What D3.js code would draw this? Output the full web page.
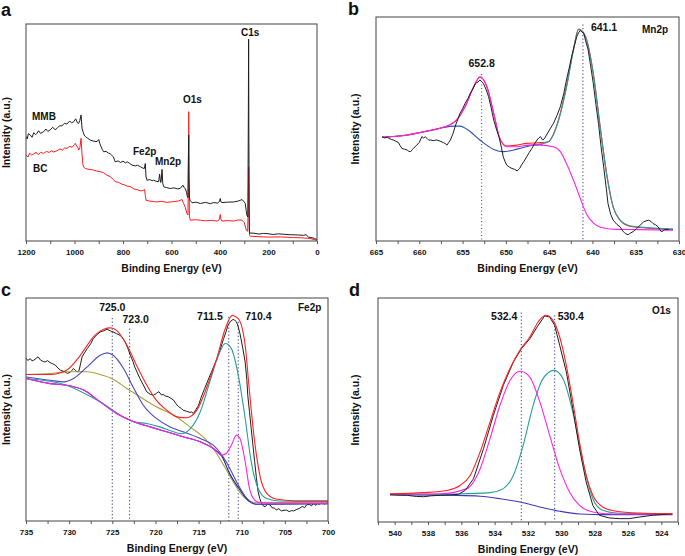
<!DOCTYPE html>
<html><head><meta charset="utf-8">
<script src="https://cdn.jsdelivr.net/npm/d3@7"></script>
<style>
body{margin:0;background:#fff}
text{font-family:"Liberation Sans",Arial,sans-serif;font-weight:bold;fill:#111}
</style>
</head><body>
<svg id="chart" width="685" height="556"></svg>
<script>
// ---------------- DATA (binding energy eV, intensity a.u.) ----------------
// Panel a: survey spectra
const surveyMMB = [[1200,48.1],[1195,47.0],[1190,49.5],[1182,48.8],[1175,47.8],[1168,49.9],[1160,49.0],[1155,49.6],[1148,50.8],[1140,49.6],[1127,50.4],[1118,51.6],[1110,50.5],[1100,51.2],[1090,52.4],[1080,51.3],[1072,51.9],[1062,53.1],[1052,53.0],[1042,54.2],[1031,53.9],[1020,55.3],[1012,54.4],[1003,55.0],[995,56.3],[988,54.5],[983,54.2],[978,55.5],[973,58.1],[969,52.0],[965,50.4],[960,48.8],[955,48.1],[945,47.3],[935,46.5],[920,46.0],[907,45.8],[900,46.8],[896,45.0],[893,44.2],[886,42.3],[880,41.1],[870,41.3],[860,40.5],[852,40.1],[840,38.8],[832,36.5],[820,36.9],[810,36.2],[800,36.8],[790,36.0],[783,36.5],[773,35.8],[763,35.0],[750,34.6],[740,34.9],[728,34.2],[718,33.6],[712,33.4],[708,35.7],[705,29.5],[701,28.0],[690,28.3],[680,27.8],[674,28.0],[665,27.6],[653,27.3],[649,30.8],[645,27.0],[643,27.3],[639,33.0],[636,26.5],[632,25.0],[620,24.6],[605,24.2],[590,24.5],[575,24.0],[564,24.2],[553,25.7],[548,24.6],[543,24.2],[538,22.5],[536,21.1],[532,20.0],[530,40.0],[529,48.8],[528,30.0],[526,20.0],[524,18.8],[515,17.6],[500,17.9],[481,17.3],[460,17.8],[440,17.2],[426,17.7],[410,17.5],[402,18.2],[399,19.6],[396,18.0],[392,17.7],[370,17.9],[344,18.0],[325,18.4],[315,18.8],[309,19.1],[300,18.0],[296,17.3],[292,14.0],[289,11.9],[285,11.1],[283,60.0],[282,93.0],[281,50.0],[279,5.0],[278,3.7],[260,3.6],[240,3.2],[220,3.5],[206,3.4],[180,3.0],[160,3.3],[137,3.1],[110,2.9],[80,2.8],[55,2.6],[45,2.9],[35,1.8],[21,1.5],[10,1.2],[0,0.6]];
const surveyBC = [[1200,39.6],[1192,38.7],[1185,40.5],[1176,39.6],[1168,40.1],[1158,40.9],[1150,39.8],[1140,40.8],[1127,40.4],[1115,41.3],[1105,40.8],[1095,41.6],[1085,41.0],[1072,41.6],[1060,42.4],[1050,41.9],[1040,42.9],[1031,42.7],[1020,43.6],[1010,43.2],[1000,44.5],[997,45.0],[990,43.5],[985,43.0],[983,41.9],[978,43.0],[973,47.3],[969,40.0],[965,35.0],[960,33.8],[955,33.4],[940,33.0],[925,32.8],[910,32.3],[893,31.9],[880,31.5],[870,30.6],[852,29.6],[840,28.4],[832,27.3],[820,27.1],[805,26.2],[795,25.9],[783,25.3],[770,25.1],[755,24.0],[740,23.6],[728,23.1],[718,23.3],[711,23.7],[708,21.0],[705,18.8],[690,18.4],[675,18.2],[660,18.0],[640,18.3],[620,17.8],[605,18.0],[585,18.2],[570,18.5],[557,19.1],[550,17.3],[543,15.5],[536,12.6],[532,12.0],[530,40.0],[529,59.6],[528,30.0],[526,11.0],[522,9.6],[500,9.8],[481,9.6],[460,9.3],[440,9.5],[412,9.2],[403,9.8],[399,12.2],[396,10.0],[392,9.2],[370,9.4],[344,9.2],[325,9.7],[309,9.6],[300,8.5],[294,6.0],[291,4.9],[286,4.5],[283,20.0],[282,34.2],[281,15.0],[278,2.6],[275,2.2],[240,2.0],[206,1.8],[150,1.9],[100,1.6],[69,1.5],[30,1.2],[0,0.3]];

// Panel b: Mn2p
const mnRaw = [[664.3,46.6],[664.0,46.0],[663.7,46.4],[663.5,45.8],[663.2,45.3],[663.0,45.1],[662.7,44.5],[662.4,43.9],[662.2,42.5],[662.0,41.3],[661.7,41.0],[661.4,40.6],[661.2,40.0],[661.0,39.9],[660.8,40.8],[660.7,41.3],[660.5,42.0],[660.3,42.8],[660.0,44.0],[659.7,46.6],[659.5,46.0],[659.3,46.5],[659.1,45.8],[658.9,45.0],[658.7,45.1],[658.4,44.8],[658.0,45.1],[657.6,44.6],[657.2,43.9],[657.0,43.5],[656.8,42.8],[656.6,44.0],[656.4,45.1],[656.1,48.0],[655.8,51.8],[655.5,54.8],[655.3,57.0],[655.0,59.0],[654.7,61.5],[654.4,63.5],[654.1,66.0],[653.8,68.0],[653.5,70.4],[653.2,71.0],[653.0,71.9],[652.8,71.2],[652.6,70.4],[652.3,67.8],[652.0,64.5],[651.7,59.5],[651.4,54.0],[651.1,50.0],[650.8,46.6],[650.5,41.5],[650.3,37.6],[650.1,35.5],[649.9,33.9],[649.6,33.0],[649.3,32.4],[649.0,32.0],[648.7,31.3],[648.4,32.4],[648.2,33.9],[647.9,35.6],[647.6,37.6],[647.3,39.5],[647.0,41.3],[646.7,43.3],[646.4,45.1],[646.2,46.0],[646.0,46.6],[645.8,45.3],[645.7,45.1],[645.5,46.0],[645.3,47.3],[644.9,50.0],[644.5,52.5],[644.1,56.0],[643.7,60.0],[643.3,66.0],[643.0,71.9],[642.7,77.0],[642.4,82.4],[642.1,87.0],[641.8,91.3],[641.6,93.0],[641.4,94.0],[641.2,93.2],[641.0,92.8],[640.8,89.5],[640.5,85.4],[640.2,78.0],[639.9,70.4],[639.6,61.0],[639.3,52.5],[639.0,42.0],[638.7,33.1],[638.4,23.5],[638.2,16.7],[637.9,12.0],[637.6,9.3],[637.2,7.5],[636.8,6.3],[636.5,4.5],[636.2,3.3],[635.9,2.8],[635.7,3.3],[635.3,4.2],[634.9,5.5],[634.5,7.0],[634.1,8.5],[633.8,9.0],[633.5,9.3],[633.2,8.6],[633.0,7.8],[632.7,7.2],[632.4,6.3],[632.2,5.0],[632.0,4.0],[631.8,4.8],[631.6,5.1],[631.2,5.1]];
const mnEnvelope = [[664.3,46.3],[661.4,47.3],[659.5,48.8],[657.6,50.3],[655.7,54.0],[654.7,60.0],[653.7,69.0],[653.0,73.3],[652.2,69.0],[651.4,57.0],[650.7,45.8],[649.9,42.4],[648.7,42.8],[647.6,43.6],[646.0,43.9],[645.1,44.3],[644.1,51.8],[643.0,69.0],[642.2,85.4],[641.6,94.6],[640.8,91.3],[639.9,74.9],[639.1,51.0],[638.3,28.7],[637.6,15.2],[636.8,9.3],[635.7,6.6],[634.5,6.0],[630.7,5.1]];
const mn652 = [[664.3,46.3],[661.4,47.3],[659.5,48.8],[657.6,50.3],[655.7,54.0],[654.7,60.0],[653.7,69.0],[653.0,73.1],[652.2,69.0],[651.4,57.0],[650.7,45.8],[649.9,42.1],[648.7,42.1],[647.6,42.7],[646.0,42.8],[644.5,42.1],[643.7,39.9],[643.0,34.6],[642.2,27.2],[641.4,19.0],[640.7,12.2],[639.9,8.1],[638.7,5.8],[637.2,5.2],[634.5,5.1],[630.7,4.8]];
const mn641 = [[647.6,42.7],[646.0,43.3],[645.1,44.3],[644.1,51.5],[643.0,68.5],[642.2,85.0],[641.6,94.4],[640.8,91.0],[639.9,74.5],[639.1,50.5],[638.3,28.3],[637.6,15.0],[636.8,9.3],[635.7,6.8],[634.5,6.2],[630.7,5.4]];
const mnSatellite = [[664.3,46.3],[661.4,47.3],[659.5,48.7],[657.6,50.3],[656.0,51.3],[655.3,51.3],[654.5,49.9],[653.0,45.1],[651.4,40.9],[650.3,39.9],[648.7,41.0],[647.2,42.5],[645.7,43.3]];
const mnPeaks = [652.8, 641.1];
const mnPeakTops = [74.6, 96.6];

// Panel c: Fe2p
const feRaw = [[735.0,73.1],[734.8,72.0],[734.5,72.8],[734.3,71.8],[734.1,72.1],[733.8,73.0],[733.6,73.6],[733.3,72.1],[733.0,71.5],[732.8,71.3],[732.5,71.9],[732.2,71.0],[731.9,70.5],[731.6,69.9],[731.3,68.6],[731.0,67.6],[730.7,67.2],[730.5,66.9],[730.2,66.2],[729.9,66.6],[729.7,67.4],[729.5,68.4],[729.3,67.6],[729.1,67.0],[728.9,66.9],[728.7,70.0],[728.5,73.6],[728.2,75.5],[727.9,77.3],[727.5,79.5],[727.2,81.8],[726.8,83.5],[726.4,84.8],[726.0,85.3],[725.6,86.0],[725.2,85.2],[724.9,84.8],[724.5,84.0],[724.1,83.3],[723.8,82.0],[723.5,80.3],[723.2,77.5],[722.9,74.3],[722.6,71.5],[722.4,69.1],[722.1,66.5],[721.8,63.9],[721.4,61.0],[721.0,57.9],[720.6,56.8],[720.2,56.4],[719.9,57.2],[719.6,58.0],[719.3,56.5],[719.1,56.7],[718.8,56.0],[718.5,55.7],[718.2,55.0],[717.9,54.2],[717.6,52.5],[717.3,51.2],[717.0,50.5],[716.8,49.7],[716.4,49.2],[716.0,48.7],[715.8,48.9],[715.6,48.2],[715.3,50.0],[715.0,51.9],[714.7,55.5],[714.3,59.4],[713.9,63.2],[713.5,66.9],[713.1,70.5],[712.7,74.3],[712.4,78.0],[712.1,81.8],[711.8,85.0],[711.6,87.8],[711.3,89.5],[711.0,90.4],[710.8,90.0],[710.6,89.3],[710.4,87.0],[710.2,84.0],[709.9,78.0],[709.6,71.3],[709.4,63.0],[709.3,56.4],[709.1,49.0],[708.9,41.5],[708.7,34.0],[708.5,26.6],[708.3,19.5],[708.1,13.1],[707.9,10.0],[707.7,7.9],[707.5,6.8],[707.3,6.4],[707.0,7.5],[706.7,7.2],[706.5,6.0],[706.2,5.7],[706.0,5.0],[705.7,5.5],[705.4,4.5],[705.1,4.8],[704.8,4.9],[704.5,4.2],[704.2,4.7],[704.0,4.5],[703.6,5.2],[703.3,5.7],[703.0,6.5],[702.7,6.0],[702.5,7.2],[702.2,7.5],[701.9,6.8],[701.7,7.9],[701.4,7.0],[701.2,7.8],[701.0,7.5],[700.7,8.3],[700.4,7.6],[700.0,8.4]];
const feEnvelope = [[735.0,65.7],[732.2,65.7],[730.3,67.6],[728.7,74.3],[727.2,82.5],[726.0,86.0],[725.2,86.6],[724.5,85.5],[723.3,78.8],[722.2,69.9],[721.0,60.9],[719.9,54.2],[718.7,49.7],[717.5,46.7],[716.4,46.3],[715.2,49.7],[714.1,59.4],[712.9,72.8],[711.9,86.3],[711.1,92.2],[710.4,90.7],[709.6,78.8],[709.1,57.9],[708.5,35.5],[707.9,20.6],[707.1,12.4],[706.0,9.9],[704.0,9.1],[700.0,9.1]];
const fe725 = [[735.0,64.6],[732.2,63.1],[730.6,62.4],[729.5,63.9],[727.9,69.1],[726.4,74.3],[725.6,75.4],[724.9,74.3],[723.7,68.4],[722.5,59.4],[721.4,51.9],[719.9,46.0],[718.3,42.2],[716.8,40.0],[714.8,37.0],[713.3,34.0],[711.8,26.6],[710.6,17.6],[709.4,10.1],[708.3,7.5],[700.0,7.8]];
const fe723 = [[735.0,65.7],[732.2,66.1],[730.3,66.9],[727.9,66.9],[726.4,65.7],[724.9,63.6],[723.3,59.4],[721.8,55.7],[719.9,51.2],[717.9,47.5],[716.0,42.2],[714.5,37.8],[713.3,32.5],[712.1,25.1],[711.0,17.6],[709.8,10.9],[708.7,8.4],[700.0,8.2]];
const fe711 = [[735.0,63.9],[730.3,60.9],[726.4,53.4],[722.5,44.5],[721.0,43.7],[719.5,42.2],[717.9,40.0],[717.0,39.1],[716.0,41.2],[714.8,49.0],[713.7,62.4],[712.7,74.3],[711.9,79.6],[711.2,77.3],[710.4,65.4],[709.6,46.0],[708.9,26.6],[708.1,14.6],[707.1,10.1],[705.6,9.0],[700.0,8.7]];
const fe710 = [[735.0,63.9],[732.2,61.6],[730.3,60.9],[728.3,58.7],[726.4,53.4],[724.5,48.2],[722.5,44.5],[720.6,42.2],[718.7,40.0],[716.8,37.8],[714.8,35.5],[713.3,32.5],[712.3,29.6],[711.8,30.3],[711.2,34.0],[710.6,38.5],[710.2,37.0],[709.6,26.6],[709.1,14.6],[708.5,9.4],[707.9,8.2],[700.0,7.9]];
const feBaseline = [[735.0,63.9],[732.2,61.6],[730.3,60.9],[728.3,58.7],[726.4,53.4],[724.5,48.2],[722.5,44.5],[720.6,42.2],[718.7,40.0],[716.8,37.8],[714.8,35.5],[713.3,32.5],[712.3,29.0],[711.4,21.3],[710.2,13.9],[709.1,8.7],[708.3,7.5],[700.0,7.8]];
const fePeaks = [725.0, 723.0, 711.5, 710.4];
const fePeakTops = [91.0, 86.3, 91.5, 89.3];

// Panel d: O1s
const oRaw = [[540.28,12.2],[539.8,12.0],[539.24,11.9],[538.7,11.4],[538.25,11.3],[537.8,11.7],[537.26,11.9],[536.7,12.1],[536.16,12.4],[535.77,14.1],[535.27,19.3],[534.67,32.7],[534.08,47.6],[533.48,61.0],[532.88,71.4],[532.39,77.4],[531.89,81.8],[531.39,87.8],[531.00,92.0],[530.70,91.5],[530.40,87.8],[530.10,78.9],[529.70,67.0],[529.31,50.6],[528.91,32.7],[528.51,17.9],[528.11,7.4],[527.72,3.0],[527.12,1.8],[526.52,1.5],[525.93,1.5],[525.33,2.2],[524.54,3.0],[523.34,3.6]];
const oEnvelope = [[540.28,12.6],[538.25,13.1],[536.86,14.1],[536.06,16.4],[535.47,20.8],[534.87,31.3],[534.28,44.6],[533.68,58.0],[533.08,68.5],[532.49,76.6],[531.89,82.6],[531.39,89.3],[530.94,92.3],[530.50,90.0],[530.10,82.6],[529.70,69.9],[529.31,53.6],[528.91,35.7],[528.51,20.8],[528.11,11.9],[527.52,6.7],[526.72,4.8],[525.33,4.0],[523.34,3.7]];
const o532 = [[540.28,12.4],[537.26,12.6],[535.67,14.9],[534.87,23.8],[534.28,37.2],[533.68,52.1],[533.08,63.2],[532.45,67.3],[531.89,64.7],[531.29,53.6],[530.70,38.7],[530.10,23.8],[529.51,13.4],[528.91,7.4],[528.11,4.5],[526.92,3.6],[523.34,3.4]];
const o530 = [[540.28,12.2],[536.26,12.5],[534.28,13.1],[533.48,14.9],[532.88,20.8],[532.29,34.2],[531.69,52.1],[531.10,64.0],[530.44,67.7],[529.90,64.0],[529.31,49.1],[528.71,26.8],[528.11,10.4],[527.52,5.2],[526.72,4.0],[523.34,3.6]];
const oBaseline = [[540.28,12.2],[536.26,11.9],[534.87,11.5],[533.68,10.4],[532.49,8.9],[531.29,6.7],[530.10,4.8],[528.91,3.6],[527.32,3.3],[523.34,3.3]];
const oPeaks = [532.4, 530.4];
const oPeakTops = [93.5, 92.3];

// tick labels
const ticksA = [1200,1000,800,600,400,200,0];
const ticksB = [665,660,655,650,645,640,635,630];
const ticksC = [735,730,725,720,715,710,705,700];
const ticksD = [540,538,536,534,532,530,528,526,524];

// ---------------- DRAWING ----------------
const svg = d3.select("#chart");
const defs = svg.append("defs");

function drawPanel(p) {
  const x = d3.scaleLinear().domain(p.domain).range([p.L, p.R]);
  const y = d3.scaleLinear().domain([0, 100]).range([p.B, p.T]);
  defs.append("clipPath").attr("id", "clip" + p.name)
    .append("rect").attr("x", p.L).attr("y", p.T).attr("width", p.R - p.L).attr("height", p.B - p.T);
  const plot = svg.append("g").attr("clip-path", `url(#clip${p.name})`);

  (p.peaks || []).forEach((e, i) => {
    plot.append("line")
      .attr("x1", x(e)).attr("x2", x(e))
      .attr("y1", y(p.peakTops[i])).attr("y2", p.B)
      .attr("stroke", "#50509a").attr("stroke-width", 1.1)
      .attr("stroke-dasharray", "1.2,2.3");
  });

  p.series.forEach(s => {
    const line = d3.line().x(d => x(d[0])).y(d => y(d[1]))
      .curve(s.smooth ? d3.curveMonotoneX : d3.curveLinear);
    plot.append("path").datum(s.data).attr("d", line)
      .attr("fill", "none").attr("stroke", s.color)
      .attr("stroke-width", s.w || 1.1).attr("stroke-linejoin", "round");
  });

  svg.append("rect").attr("x", p.L).attr("y", p.T)
    .attr("width", p.R - p.L).attr("height", p.B - p.T)
    .attr("fill", "none").attr("stroke", "#555").attr("stroke-width", 1.1);

  const lo = Math.min(...p.domain), hi = Math.max(...p.domain);
  const start = Math.ceil(lo / p.minor) * p.minor;
  const minorTicks = d3.range(start, hi + 1e-9, p.minor);
  const axis = d3.axisBottom(x).tickValues(minorTicks).tickSize(3).tickPadding(5)
    .tickFormat(d => p.major.some(m => Math.abs(m - d) < 1e-6) ? d3.format("d")(d) : "");
  const ag = svg.append("g").attr("transform", `translate(0,${p.B})`).call(axis);
  ag.select(".domain").remove();
  ag.selectAll(".tick line").attr("stroke", "#555");
  ag.selectAll("text").style("font-family", '"Liberation Sans",Arial,sans-serif')
    .style("font-size", "8px").style("font-weight", "bold").attr("fill", "#111");

  svg.append("text").attr("x", (p.L + p.R) / 2).attr("y", p.B + 31)
    .attr("text-anchor", "middle").style("font-size", "10.5px").text("Binding Energy (eV)");
  svg.append("text").attr("transform", `translate(${p.L - p.ytitleOff},${(p.T + p.B) / 2}) rotate(-90)`)
    .attr("text-anchor", "middle").style("font-size", "10.5px").text("Intensity (a.u.)");
  svg.append("text").attr("x", p.letterX).attr("y", p.letterY).style("font-size", "18px").text(p.name);

  p.labels.forEach(l => {
    svg.append("text").attr("x", l.e !== undefined ? x(l.e) + (l.dx || 0) : l.x).attr("y", l.y)
      .attr("text-anchor", l.anchor || "start").style("font-size", (l.size || 10.5) + "px").text(l.t);
  });
}

const RED = "#ff2222", MAG = "#ff22ee", TEAL = "#2a9d9a", BLK = "#1e1e1e";

drawPanel({
  name: "a", domain: [1200, 0], L: 26, R: 317, T: 24, B: 241, minor: 100, major: ticksA,
  ytitleOff: 16, letterX: 1, letterY: 16,
  series: [
    { data: surveyBC, color: "#ff1c1c", w: 1 },
    { data: surveyMMB, color: BLK, w: 1 }
  ],
  labels: [
    { t: "MMB", x: 32, y: 120, size: 10 }, { t: "BC", x: 33, y: 172, size: 10 },
    { t: "Fe2p", x: 133, y: 155, size: 10 }, { t: "Mn2p", x: 155, y: 165, size: 10 },
    { t: "O1s", x: 183, y: 103, size: 10 }, { t: "C1s", x: 241, y: 36, size: 10 }
  ]
});

drawPanel({
  name: "b", domain: [665, 630], L: 376, R: 679, T: 17, B: 241, minor: 2.5, major: ticksB,
  ytitleOff: 17, letterX: 348, letterY: 15, peaks: mnPeaks, peakTops: mnPeakTops,
  series: [
    { data: mnSatellite, color: "#2e4fb0", smooth: true },
    { data: mnEnvelope, color: RED, smooth: true },
    { data: mn641, color: TEAL, smooth: true },
    { data: mn652, color: MAG, smooth: true },
    { data: mnRaw, color: BLK, w: 1 }
  ],
  labels: [
    { t: "652.8", e: 652.8, dx: 0, y: 67, anchor: "middle" },
    { t: "641.1", e: 641.1, dx: 8, y: 31 },
    { t: "Mn2p", x: 642, y: 33, size: 10 }
  ]
});

drawPanel({
  name: "c", domain: [735, 700], L: 26, R: 328, T: 298, B: 521, minor: 2.5, major: ticksC,
  ytitleOff: 16, letterX: 1, letterY: 296, peaks: fePeaks, peakTops: fePeakTops,
  series: [
    { data: feRaw, color: BLK, w: 1 },
    { data: fe723, color: "#a8a03c", smooth: true },
    { data: feBaseline, color: "#1c1c8a", smooth: true },
    { data: fe725, color: "#4848c0", smooth: true },
    { data: fe711, color: TEAL, smooth: true },
    { data: fe710, color: MAG, smooth: true },
    { data: feEnvelope, color: RED, smooth: true }
  ],
  labels: [
    { t: "725.0", e: 725.0, dx: 0, y: 311, anchor: "middle" },
    { t: "723.0", e: 723.0, dx: -7, y: 323 },
    { t: "711.5", e: 711.5, dx: -6, y: 320, anchor: "end" },
    { t: "710.4", e: 710.4, dx: 7, y: 320 },
    { t: "Fe2p", x: 298, y: 311, size: 10 }
  ]
});

drawPanel({
  name: "d", domain: [541, 523], L: 378, R: 678, T: 298, B: 522, minor: 1, major: ticksD,
  ytitleOff: 19, letterX: 349, letterY: 296, peaks: oPeaks, peakTops: oPeakTops,
  series: [
    { data: oBaseline, color: "#3a3ab8", smooth: true },
    { data: o530, color: TEAL, smooth: true },
    { data: o532, color: MAG, smooth: true },
    { data: oRaw, color: BLK, w: 1 },
    { data: oEnvelope, color: RED, smooth: true }
  ],
  labels: [
    { t: "532.4", e: 532.4, dx: -4, y: 320, anchor: "end" },
    { t: "530.4", e: 530.4, dx: 3, y: 320 },
    { t: "O1s", x: 652, y: 314, size: 10 }
  ]
});
</script>
</body></html>
